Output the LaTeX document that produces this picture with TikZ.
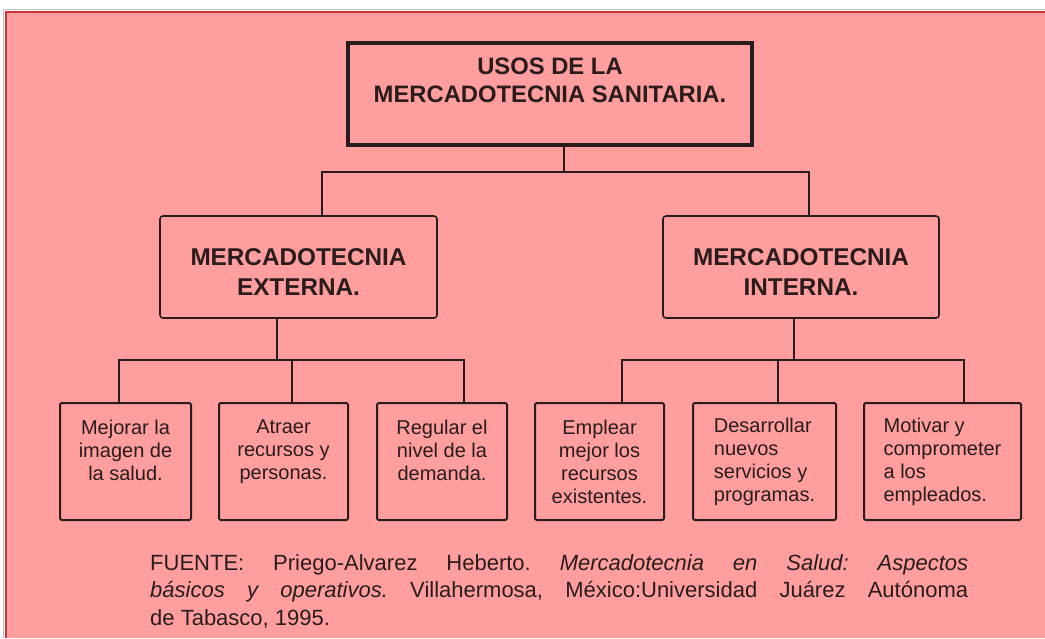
\documentclass[tikz,border=0pt]{standalone}
\usepackage{fontspec}
\setmainfont{Liberation Sans}
\usetikzlibrary{calc}
\definecolor{bgpink}{HTML}{FF9E9E}
\definecolor{ink}{HTML}{2A1C1C}
\definecolor{edgered}{HTML}{C8343A}
\frenchspacing
\begin{document}
\begin{tikzpicture}[x=1pt,y=-1pt,
 topbox/.style={draw=ink, line width=3.5pt, minimum width=404pt, minimum height=102pt, inner sep=0pt, align=center, font=\bfseries\fontsize{23.8}{28}\selectfont, text=ink},
 midbox/.style={draw=ink, line width=1.6pt, rounded corners=3pt, minimum width=277pt, minimum height=102pt, inner sep=0pt},
 midtext/.style={align=center, inner sep=0pt, font=\bfseries\fontsize{24.3}{30}\selectfont, text=ink},
 leafbox/.style={draw=ink, line width=2pt, rounded corners=1.5pt, minimum height=117pt, inner sep=0pt, font=\fontsize{20}{23}\selectfont, text=ink},
 wire/.style={draw=ink, line width=1.5pt},
 thickwire/.style={draw=ink, line width=2.6pt},
 foot/.style={inner sep=0pt, anchor=base west, font=\fontsize{22}{27}\selectfont, text=ink}
]
\useasboundingbox (0,0) rectangle (1045,638);
\fill[white] (0,0) rectangle (1045,638);
\fill[bgpink] (5,11) rectangle (1045,638);
\draw[gray!50, line width=0.8pt] (3.5,638) -- (3.5,9.5) -- (1045,9.5);
\draw[edgered, line width=2pt] (6,638) -- (6,12) -- (1045,12);

% nodes
\node[topbox] (top) at (550,94) {USOS DE LA\\MERCADOTECNIA SANITARIA.\\\mbox{}};
\node[midbox] (ext) at (298.5,267) {};
\node[midtext] (extT) at ($(ext.center)+(0,5)$) {MERCADOTECNIA\\EXTERNA.};
\node[midbox, minimum width=276pt] (int) at (801,267) {};
\node[midtext] (intT) at ($(int.center)+(0,5)$) {MERCADOTECNIA\\INTERNA.};

\node[leafbox, minimum width=131pt, align=center] (l1) at (125.5,461.5) {Mejorar la\\imagen de\\la salud.\\\mbox{}};
\node[leafbox, minimum width=129pt, align=center] (l2) at (283.5,461.5) {Atraer\\recursos y\\personas.\\\mbox{}};
\node[leafbox, minimum width=130pt, align=center] (l3) at (442,461.5) {Regular el\\nivel de la\\demanda.\\\mbox{}};
\node[leafbox, minimum width=129pt, align=center] (l4) at (599.5,461.5) {Emplear\\mejor los\\recursos\\existentes.};
\node[leafbox, minimum width=143pt, align=left] (l5) at (764.5,461.5) {Desarrollar\\nuevos\\servicios y\\programas.};
\node[leafbox, minimum width=157pt, align=left] (l6) at (942.5,461.5) {Motivar y\\comprometer\\a los\\empleados.};

% connectors level 1
\coordinate (b0) at (564,172);
\coordinate (bL) at (322,172);
\coordinate (bR) at (809,172);
\draw[wire] (top.south -| b0) -- (b0);
\draw[wire] (bL |- ext.north) -- (bL) -- (bR) -- (bR |- int.north);

% connectors level 2
\coordinate (cL) at (277,360);
\coordinate (cR) at (794,360);
\coordinate (t1) at (119,360);
\coordinate (t2) at (292,360);
\coordinate (t3) at (464,360);
\coordinate (t4) at (622,360);
\coordinate (t5) at (778,360);
\coordinate (t6) at (964,360);
\draw[wire, line width=2pt] (ext.south -| cL) -- (cL);
\draw[wire, line width=2pt] (int.south -| cR) -- (cR);
\draw[thickwire] (t1 |- l1.north) -- (t1) -- (t3) -- (t3 |- l3.north);
\draw[thickwire] (t2) -- (t2 |- l2.north);
\draw[thickwire] (t4 |- l4.north) -- (t4) -- (t6) -- (t6 |- l6.north);
\draw[thickwire] (t5) -- (t5 |- l5.north);

% footer
\node[foot] (f1) at (150,570) {\makebox[818pt][s]{FUENTE: Priego-Alvarez Heberto. \textit{Mercadotecnia en Salud: Aspectos}}};
\node[foot] (f2) at (150,597) {\makebox[818pt][s]{\textit{básicos y operativos.} Villahermosa, México:Universidad Juárez Autónoma}};
\node[foot] (f3) at (150,625) {de Tabasco, 1995.};
\end{tikzpicture}
\end{document}
